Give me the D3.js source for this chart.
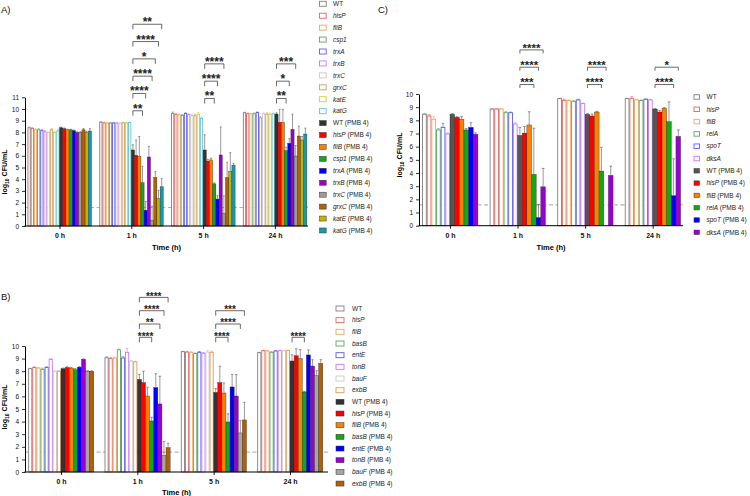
<!DOCTYPE html>
<html><head><meta charset="utf-8">
<script src="https://cdn.jsdelivr.net/npm/d3@7"></script>
<style>body{margin:0;background:#fff}svg{display:block;font-family:"Liberation Sans",Arial,sans-serif}</style>
</head><body>
<svg id="chart" width="750" height="496"></svg>
<script>
const timeLabels = ["0 h","1 h","5 h","24 h"];
const lodValue = 1.58;

// Panel A
const strainsA = ["WT","hisP","fliB","csp1","trxA","trxB","trxC","grxC","katE","katG"];
const aOpen = [
  [8.40,8.35,8.22,8.22,8.15,8.05,8.00,8.22,8.00,8.12],
  [8.88,8.82,8.80,8.80,8.80,8.80,8.78,8.82,8.82,8.85],
  [9.62,9.52,9.50,9.45,9.62,9.52,9.45,9.42,9.55,9.20],
  [9.68,9.60,9.58,9.60,9.70,9.25,9.62,9.55,9.55,9.60]];
const aOpenErr = [
  [0.05,0.05,0.08,0.10,0.08,0.10,0.05,0.10,0.10,0.15],
  [0.03,0.03,0.03,0.03,0.03,0.03,0.03,0.03,0.03,0.03],
  [0.12,0.08,0.08,0.08,0.06,0.06,0.10,0.15,0.15,0.05],
  [0.05,0.05,0.05,0.05,0.05,0.10,0.05,0.12,0.08,0.05]];
const aPMB = [
  [8.40,8.32,8.22,8.22,8.15,8.00,8.00,8.22,8.00,8.12],
  [6.50,6.05,5.95,3.70,1.35,5.90,0.50,4.15,2.35,3.35],
  [6.50,5.55,5.65,3.60,2.30,6.07,1.08,4.15,4.67,5.20],
  [9.57,8.86,8.86,6.44,7.07,8.26,5.98,7.69,7.35,7.86]];
const aPMBErr = [
  [0.05,0.05,0.05,0.05,0.05,0.05,0.05,0.10,0.10,0.20],
  [0.45,1.30,1.70,1.40,0.75,0.90,1.20,0.50,0.70,0.70],
  [1.30,0.15,0.15,0.10,0.30,2.40,1.50,1.30,1.60,0.15],
  [0.10,1.10,1.10,0.30,0.40,1.30,0.90,0.85,0.30,0.50]];
const aBrackets = [
  {t:1,k:3,s:"**",lv:0},{t:1,k:4,s:"****",lv:1},{t:1,k:6,s:"****",lv:2},
  {t:1,k:7,s:"*",lv:3},{t:1,k:8,s:"****",lv:4},{t:1,k:9,s:"**",lv:5},
  {t:2,k:3,s:"**",lv:0},{t:2,k:4,s:"****",lv:1},{t:2,k:6,s:"****",lv:2},
  {t:3,k:3,s:"**",lv:0},{t:3,k:4,s:"*",lv:1},{t:3,k:6,s:"***",lv:2}];
const aBracketBase = [null,9.85,10.9,10.9];

// Panel B
const strainsB = ["WT","hisP","fliB","basB","entE","tonB","bauF","exbB"];
const bOpen = [
  [8.20,8.30,8.25,8.15,8.30,8.95,8.00,8.00],
  [9.07,9.00,9.05,9.70,9.05,9.50,8.80,8.75],
  [9.55,9.52,9.50,9.40,9.50,9.42,9.52,9.50],
  [9.47,9.63,9.60,9.50,9.60,9.63,9.63,9.63]];
const bOpenErr = [
  [0.03,0.05,0.05,0.10,0.05,0.03,0.03,0.03],
  [0.08,0.08,0.05,0.05,0.10,0.30,0.05,0.03],
  [0.03,0.05,0.05,0.05,0.06,0.06,0.15,0.10],
  [0.03,0.03,0.04,0.05,0.04,0.04,0.04,0.03]];
const bPMB = [
  [8.20,8.30,8.25,8.12,8.32,8.95,8.00,8.00],
  [7.35,7.10,6.03,4.05,6.70,5.40,1.32,1.93],
  [6.32,7.10,6.27,3.97,6.75,6.03,3.10,4.13],
  [8.81,9.23,9.02,6.35,9.29,8.41,7.65,8.62]];
const bPMBErr = [
  [0.05,0.05,0.05,0.10,0.05,0.03,0.05,0.03],
  [0.40,0.90,0.70,0.30,1.10,2.20,1.10,0.35],
  [0.30,1.30,0.80,0.65,1.00,1.70,1.00,1.40],
  [0.50,0.55,0.70,0.05,0.40,0.50,0.40,0.30]];
const bBrackets = [
  {t:1,k:3,s:"****",lv:0},{t:1,k:5,s:"**",lv:1},{t:1,k:6,s:"****",lv:2},{t:1,k:7,s:"****",lv:3},
  {t:2,k:3,s:"****",lv:0},{t:2,k:6,s:"****",lv:1},{t:2,k:7,s:"***",lv:2},
  {t:3,k:3,s:"****",lv:0}];
const bBracketBase = [null,10.69,10.69,10.69];

// Panel C
const strainsC = ["WT","hisP","fliB","relA","spoT","dksA"];
const cOpen = [
  [8.46,8.33,8.08,7.27,7.47,6.96],
  [8.86,8.86,8.86,8.58,8.58,7.72],
  [9.65,9.52,9.50,9.45,9.55,9.27],
  [9.65,9.65,9.55,9.50,9.60,9.55]];
const cOpenErr = [
  [0.05,0.10,0.20,0.10,0.30,0.08],
  [0.02,0.02,0.03,0.08,0.05,0.10],
  [0.03,0.08,0.05,0.03,0.05,0.03],
  [0.02,0.15,0.05,0.05,0.03,0.03]];
const cPMB = [
  [8.46,8.23,8.08,7.27,7.47,6.94],
  [6.86,7.03,7.65,3.90,0.62,2.95],
  [8.46,8.33,8.63,4.15,null,3.82],
  [8.86,8.63,8.91,7.90,2.28,6.78]];
const cPMBErr = [
  [0.05,0.05,0.20,0.10,0.35,0.10],
  [0.60,0.50,1.00,3.50,1.00,1.40],
  [0.05,0.15,0.05,1.80,0,0.70],
  [0.05,0.10,0.05,1.50,2.80,0.50]];
const cBrackets = [
  {t:1,k:3,s:"***",lv:0},{t:1,k:4,s:"****",lv:1},{t:1,k:5,s:"****",lv:2},
  {t:2,k:3,s:"****",lv:0},{t:2,k:4,s:"****",lv:1},
  {t:3,k:4,s:"****",lv:0},{t:3,k:5,s:"*",lv:1}];
const cBracketBase = [null,10.72,10.72,10.72];

const openColsA = ["#808080","#e8605f","#f2a65a","#5aa85a","#5b5bf0","#cc77ee","#c8c8c8","#d99a5b","#cccc44","#66c6d2"];
const fillColsA = ["#333333","#ff0000","#ff8000","#12a812","#0000ff","#9b00d3","#9a9a9a","#b45f06","#c4b400","#1899ab"];
const openColsB = ["#808080","#e8605f","#f2a65a","#5aa85a","#5b5bf0","#cc77ee","#c8c8c8","#e09a5b"];
const fillColsB = ["#333333","#ff0000","#ff8000","#12a812","#0000ff","#9b00d3","#a6a6a6","#b45f06"];
const openColsC = ["#808080","#e8605f","#f2a65a","#5aa85a","#5b5bf0","#cc77ee"];
const fillColsC = ["#555555","#ff0000","#ff8000","#12a812","#0000ff","#9b00d3"];

const svg = d3.select("#chart");

function panel(cfg){
  const g = svg.append("g");
  const n = cfg.strains.length;
  const x = d3.scalePoint().domain(timeLabels).range(cfg.centers);
  const y = d3.scaleLinear().domain([0,cfg.ymax]).range(cfg.yRange);
  const inner = d3.scaleBand().domain(d3.range(2*n)).range([-n*cfg.barW, n*cfg.barW]).padding(0);
  const bw = inner.bandwidth();

  // limit-of-detection dashed line
  g.append("line").attr("x1",cfg.axisX[0]).attr("x2",cfg.axisX[1])
    .attr("y1",y(lodValue)).attr("y2",y(lodValue))
    .attr("stroke","#b5b5b5").attr("stroke-width",1.2).attr("stroke-dasharray","4,2.5");

  timeLabels.forEach((t,ti)=>{
    const cx = x(t);
    const series = [
      {vals:cfg.open[ti], errs:cfg.openErr[ti], open:true},
      {vals:cfg.pmb[ti], errs:cfg.pmbErr[ti], open:false}];
    series.forEach((s,si)=>{
      s.vals.forEach((v,i)=>{
        if(v==null) return;
        const idx = si*n+i;
        const bx = cx+inner(idx);
        if(s.open){
          g.append("rect").attr("x",bx+0.45).attr("y",y(v)).attr("width",bw-0.9).attr("height",y(0)-y(v))
            .attr("fill","#fff").attr("stroke",cfg.openCols[i]).attr("stroke-width",0.9);
        } else {
          g.append("rect").attr("x",bx).attr("y",y(v)).attr("width",bw).attr("height",y(0)-y(v))
            .attr("fill",cfg.fillCols[i]).attr("stroke","#222").attr("stroke-width",0.35);
        }
        const e = s.errs[i];
        if(e>0){
          const col = s.open ? cfg.openCols[i] : "#555";
          const mx = bx+bw/2;
          g.append("line").attr("x1",mx).attr("x2",mx).attr("y1",y(v)).attr("y2",y(v+e))
            .attr("stroke",col).attr("stroke-width",0.6);
          g.append("line").attr("x1",mx-bw*0.3).attr("x2",mx+bw*0.3).attr("y1",y(v+e)).attr("y2",y(v+e))
            .attr("stroke",col).attr("stroke-width",0.6);
        }
      });
    });
  });

  // significance brackets
  cfg.brackets.forEach(b=>{
    const cx = x(timeLabels[b.t]);
    const xa = cx+inner(n)+bw/2, xb = cx+inner(n+b.k)+bw/2;
    const yl = y(cfg.bracketBase[b.t]) - b.lv*cfg.bStep;
    g.append("path").attr("d",`M${xa},${yl+cfg.leg}V${yl}H${xb}V${yl+cfg.leg}`)
      .attr("fill","none").attr("stroke","#444").attr("stroke-width",0.8);
    g.append("text").attr("x",(xa+xb)/2).attr("y",yl+cfg.starDy).attr("text-anchor","middle")
      .attr("font-size",cfg.starSize).attr("font-weight","bold").attr("fill","#222").text(b.s);
  });

  // axes
  const ya = g.append("g").attr("transform",`translate(${cfg.axisX[0]},0)`)
    .call(d3.axisLeft(y).ticks(cfg.ymax).tickSize(3).tickSizeOuter(0).tickPadding(3));
  ya.selectAll("text").attr("font-size",6.5).attr("font-family","Liberation Sans, Arial").attr("fill","#111");
  ya.select(".domain").attr("stroke","#000").attr("stroke-width",1);
  ya.selectAll(".tick line").attr("stroke","#000").attr("stroke-width",0.8);

  const xa = g.append("g").attr("transform",`translate(0,${cfg.yRange[0]})`)
    .call(d3.axisBottom(x).tickSize(3).tickSizeOuter(0).tickPadding(4));
  xa.select(".domain").remove();
  xa.selectAll(".tick line").attr("stroke","#000").attr("stroke-width",0.9);
  xa.selectAll("text").attr("font-size",7).attr("font-weight","bold").attr("font-family","Liberation Sans, Arial").attr("fill","#111");
  g.append("line").attr("x1",cfg.axisX[0]-0.5).attr("x2",cfg.axisX[1]).attr("y1",cfg.yRange[0]).attr("y2",cfg.yRange[0])
    .attr("stroke","#000").attr("stroke-width",1);

  g.append("text").attr("x",(cfg.axisX[0]+cfg.axisX[1])/2).attr("y",cfg.xTitleY).attr("text-anchor","middle")
    .attr("font-size",7.5).attr("font-weight","bold").text("Time (h)");

  const yl = g.append("text").attr("transform",`translate(${cfg.yTitle[0]},${cfg.yTitle[1]}) rotate(-90)`)
    .attr("text-anchor","middle").attr("font-size",7).attr("font-weight","bold").attr("dy","0.35em");
  yl.append("tspan").text("log");
  yl.append("tspan").attr("font-size",5).attr("dy","0.35em").text("10");
  yl.append("tspan").attr("dy","-0.25em").text(" CFU/mL");

  // legend
  const L = cfg.legend;
  const entries = cfg.strains.map((s,i)=>({name:s,pmb:false,i}))
    .concat(cfg.strains.map((s,i)=>({name:s,pmb:true,i})));
  entries.forEach((en,j)=>{
    const cy = L.y0 + j*L.step;
    const r = g.append("rect").attr("x",L.x).attr("y",cy-L.h/2).attr("width",L.w).attr("height",L.h);
    if(en.pmb) r.attr("fill",cfg.fillCols[en.i]).attr("stroke","#333").attr("stroke-width",0.5);
    else r.attr("fill","#fff").attr("stroke",cfg.openCols[en.i]).attr("stroke-width",0.9);
    const t = g.append("text").attr("x",L.tx).attr("y",cy).attr("dy","0.35em").attr("font-size",L.fs).attr("fill","#222");
    t.append("tspan").attr("font-style",en.name==="WT"?"normal":"italic").text(en.name);
    if(en.pmb) t.append("tspan").text(" (PMB 4)");
  });

  g.append("text").attr("x",cfg.label[0]).attr("y",cfg.label[1]).attr("font-size",9.5).attr("fill","#111").text(cfg.labelText);
}

panel({strains:strainsA, open:aOpen, openErr:aOpenErr, pmb:aPMB, pmbErr:aPMBErr,
  openCols:openColsA, fillCols:fillColsA, ymax:11, yRange:[226,97.3],
  centers:[59.5,274.9], axisX:[25,308], barW:3.2,
  brackets:aBrackets, bracketBase:aBracketBase, bStep:17.3, leg:5, starSize:12, starDy:2,
  xTitleY:250, yTitle:[5,172],
  legend:{x:319.5,w:6.7,h:5,tx:333,y0:3.8,step:11.93,fs:6.5},
  label:[1,13], labelText:"A)"});

panel({strains:strainsB, open:bOpen, openErr:bOpenErr, pmb:bPMB, pmbErr:bPMBErr,
  openCols:openColsB, fillCols:fillColsB, ymax:10, yRange:[472,346],
  centers:[61,290], axisX:[25,328], barW:4.1,
  brackets:bBrackets, bracketBase:bBracketBase, bStep:13.3, leg:5, starSize:10, starDy:2.4,
  xTitleY:495, yTitle:[5,407],
  legend:{x:336,w:8,h:5,tx:352,y0:308.5,step:11.67,fs:6.5},
  label:[1,300], labelText:"B)"});

panel({strains:strainsC, open:cOpen, openErr:cOpenErr, pmb:cPMB, pmbErr:cPMBErr,
  openCols:openColsC, fillCols:fillColsC, ymax:10, yRange:[225.7,94],
  centers:[450,652.7], axisX:[419,683], barW:4.65,
  brackets:cBrackets, bracketBase:cBracketBase, bStep:17.3, leg:3.5, starSize:11.5, starDy:1.8,
  xTitleY:249.5, yTitle:[400,155],
  legend:{x:694,w:5.5,h:4.5,tx:706.5,y0:97,step:12.3,fs:6.5},
  label:[378,13], labelText:"C)"});
</script>
</body></html>
